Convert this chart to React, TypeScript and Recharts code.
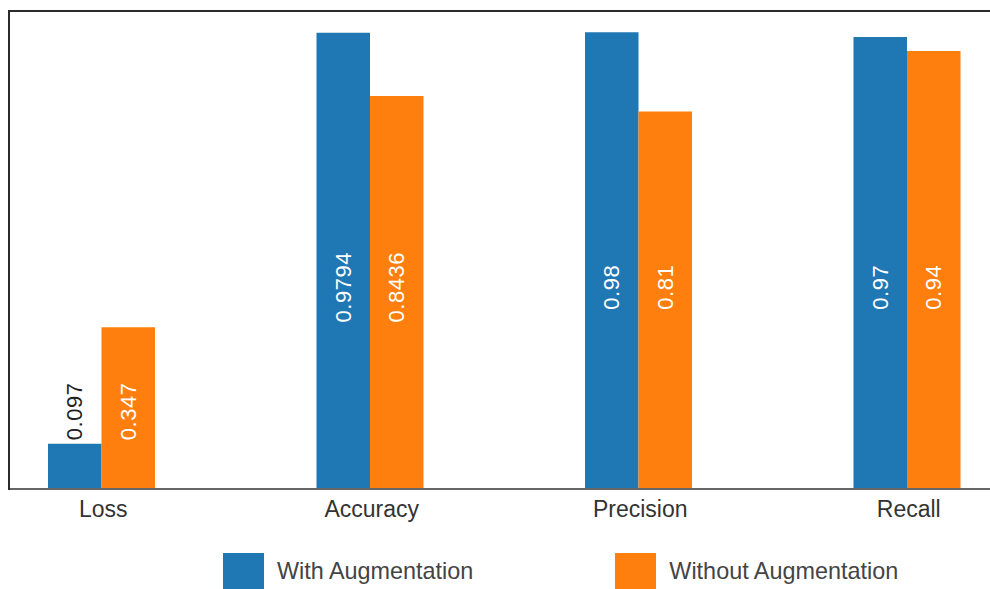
import React from 'react';
import { BarChart, Bar, XAxis, YAxis, Legend, LabelList } from 'recharts';

// Evaluation metrics per training setup
const metrics = ['Loss', 'Accuracy', 'Precision', 'Recall'];
const withAugmentation = [0.097, 0.9794, 0.98, 0.97];
const withoutAugmentation = [0.347, 0.8436, 0.81, 0.94];
const seriesNames = ['With Augmentation', 'Without Augmentation'];
const seriesColors = ['#1f77b4', '#ff7f0e'];

const FONT = '"Liberation Sans", Arial, Helvetica, sans-serif';
// value level where the rotated value labels are centred
const LABEL_LEVEL = 0.433;

const rows = metrics.map((metric, i) => ({
  metric,
  withAug: withAugmentation[i],
  withoutAug: withoutAugmentation[i],
  labelAt: Math.min(LABEL_LEVEL, Math.max(withAugmentation[i], withoutAugmentation[i]) * 0.48),
}));

const ValueLabel = (props: any) => {
  const x = Number(props.x);
  const y = Number(props.y);
  const width = Number(props.width);
  const height = Number(props.height);
  const value = Number(props.value);
  const row = rows[props.index] ?? rows[0];
  const bottom = y + height;
  const pxPerUnit = value > 0 ? height / value : 0;
  const cy = bottom - row.labelAt * pxPerUnit;
  const cx = x + width / 2;
  const inside = row.labelAt <= value;
  return (
    <text
      transform={`translate(${cx},${cy}) rotate(-90)`}
      textAnchor="middle"
      dominantBaseline="central"
      fill={inside ? '#ffffff' : '#222222'}
      fontSize={22}
      letterSpacing={0.5}
      fontFamily={FONT}
    >
      {String(props.value)}
    </text>
  );
};

const LegendContent = (props: any) => {
  const items = (props.payload && props.payload.length
    ? props.payload.map((p: any) => ({ name: p.value, color: p.color }))
    : seriesNames.map((name, i) => ({ name, color: seriesColors[i] })));
  return (
    <div style={{ display: 'flex', paddingLeft: 256, fontFamily: FONT, fontSize: 23.4, color: '#444444' }}>
      {items.map((item: any, i: number) => (
        <div
          key={item.name}
          style={{ display: 'flex', alignItems: 'flex-start', marginRight: i === 0 ? 142 : 0 }}
        >
          <div style={{ width: 41, height: 41, background: item.color }} />
          <span style={{ marginLeft: 13, marginTop: 5, lineHeight: 'normal', whiteSpace: 'nowrap' }}>
            {item.name}
          </span>
        </div>
      ))}
    </div>
  );
};

export default function App() {
  return (
    <div
      style={{
        position: 'fixed',
        left: 8,
        top: 0,
        width: 982,
        height: 589,
        overflow: 'hidden',
        background: '#ffffff',
      }}
    >
      <div style={{ position: 'absolute', left: -41, top: 0 }}>
        <BarChart
          width={1074}
          height={589}
          data={rows}
          margin={{ top: 10, right: 0, bottom: 70, left: 0 }}
          barGap={0}
        >
          <XAxis
            dataKey="metric"
            height={30}
            tickLine={false}
            tickMargin={6}
            axisLine={{ stroke: '#666666', strokeWidth: 2 }}
            tick={{ fontSize: 23, fill: '#333333', fontFamily: FONT, dx: 2 }}
          />
          <YAxis hide domain={[0, 1.028]} />
          <Legend
            verticalAlign="middle"
            align="center"
            content={<LegendContent />}
            wrapperStyle={{ left: 0, top: 553, width: 1074, height: 41 }}
          />
          <Bar
            dataKey="withAug"
            name={seriesNames[0]}
            fill={seriesColors[0]}
            barSize={53.5}
            isAnimationActive={false}
          >
            <LabelList dataKey="withAug" content={<ValueLabel />} />
          </Bar>
          <Bar
            dataKey="withoutAug"
            name={seriesNames[1]}
            fill={seriesColors[1]}
            barSize={53.5}
            isAnimationActive={false}
          >
            <LabelList dataKey="withoutAug" content={<ValueLabel />} />
          </Bar>
        </BarChart>
      </div>
      {/* frame edges along the top and left of the plot */}
      <div style={{ position: 'absolute', left: 0, top: 10, width: 982, height: 2, background: '#2b2b2b' }} />
      <div style={{ position: 'absolute', left: 0, top: 10, width: 2, height: 480, background: '#2b2b2b' }} />
    </div>
  );
}
